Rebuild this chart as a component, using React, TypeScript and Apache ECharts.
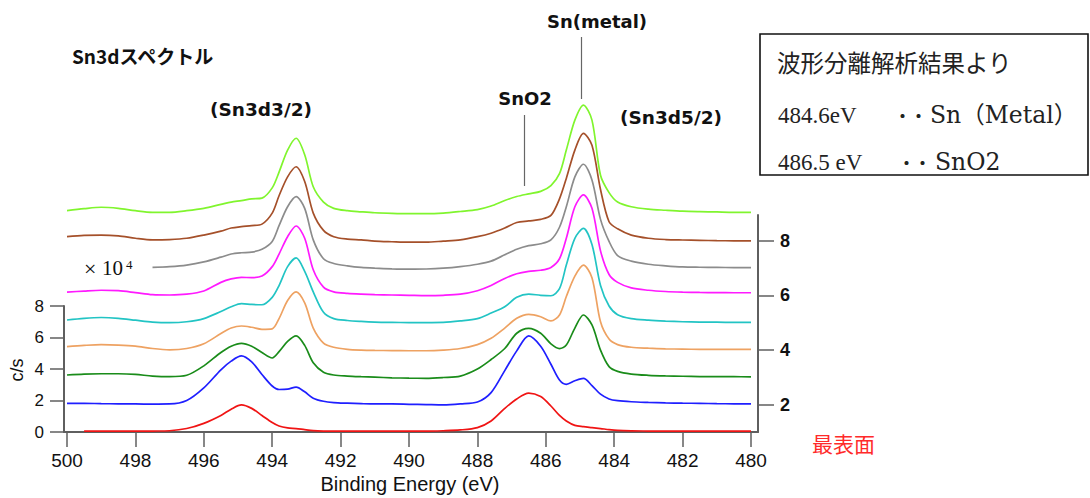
import React, { useEffect, useRef } from "react";
import * as echarts from "echarts";

// Binding energy sample positions (eV)
const X = [500, 499.5, 499, 498.5, 498, 497.5, 497, 496.5, 496, 495.5, 495.2, 494.9, 494.6, 494.3, 494.0, 493.8, 493.55, 493.3, 493.05, 492.8, 492.5, 492.2, 491.8, 491.4, 491, 490.5, 490, 489.5, 489, 488.5, 488, 487.6, 487.2, 486.85, 486.5, 486.15, 485.85, 485.6, 485.4, 485.15, 484.9, 484.65, 484.4, 484.15, 483.9, 483.5, 483, 482.5, 482, 481.5, 481, 480.5, 480];

const X_TICKS = [500, 498, 496, 494, 492, 490, 488, 486, 484, 482, 480];
const LEFT_TICKS = [0, 2, 4, 6, 8];
const RIGHT_TICKS = [2, 4, 6, 8];

// traces (c/s ×10^4, offset stacked), bottom (surface) to top
const RED = [null, 0.05, 0.05, 0.05, 0.05, 0.06, 0.08, 0.22, 0.55, 1.05, 1.45, 1.72, 1.5, 1.05, 0.6, 0.38, 0.26, 0.22, 0.15, 0.09, 0.06, 0.05, 0.05, 0.05, 0.05, 0.05, 0.05, 0.06, 0.08, 0.13, 0.28, 0.7, 1.5, 2.1, 2.47, 2.25, 1.65, 1.05, 0.7, 0.42, 0.34, 0.28, 0.22, 0.15, 0.1, 0.07, 0.06, 0.05, 0.05, 0.05, 0.05, 0.05, 0.05];
const BLUE = [1.82, 1.82, 1.8, 1.79, 1.78, 1.77, 1.78, 2.0, 2.8, 3.95, 4.5, 4.83, 4.45, 3.65, 2.92, 2.7, 2.72, 2.85, 2.55, 2.15, 1.95, 1.87, 1.83, 1.8, 1.78, 1.78, 1.76, 1.74, 1.72, 1.78, 1.9, 2.5, 3.9, 5.15, 6.1, 5.45, 4.3, 3.3, 3.03, 3.25, 3.4, 2.95, 2.4, 2.1, 1.99, 1.92, 1.88, 1.85, 1.83, 1.82, 1.8, 1.79, 1.78];
const GREEN = [3.62, 3.68, 3.7, 3.7, 3.66, 3.55, 3.51, 3.6, 4.2, 5.05, 5.45, 5.63, 5.45, 5.05, 4.7, 5.1, 5.75, 6.1, 5.5, 4.4, 3.8, 3.62, 3.55, 3.51, 3.48, 3.44, 3.42, 3.41, 3.46, 3.55, 4.0, 4.6, 5.3, 6.27, 6.58, 6.27, 5.6, 5.3, 5.52, 6.6, 7.43, 6.8, 5.2, 4.15, 3.85, 3.68, 3.6, 3.56, 3.54, 3.52, 3.51, 3.51, 3.5];
const ORANGE = [5.42, 5.5, 5.55, 5.52, 5.45, 5.3, 5.22, 5.3, 5.6, 6.25, 6.6, 6.73, 6.65, 6.52, 6.55, 7.2, 8.35, 8.9, 8.2, 6.6, 5.65, 5.38, 5.25, 5.2, 5.18, 5.17, 5.16, 5.16, 5.2, 5.3, 5.55, 5.95, 6.6, 7.22, 7.47, 7.32, 7.05, 7.43, 8.6, 9.9, 10.6, 9.8, 7.0, 5.9, 5.55, 5.38, 5.32, 5.28, 5.26, 5.25, 5.25, 5.25, 5.24];
const CYAN = [7.11, 7.22, 7.27, 7.22, 7.1, 6.98, 6.94, 7.0, 7.2, 7.65, 7.95, 8.15, 8.1, 8.08, 8.55, 9.3, 10.5, 11.05, 10.2, 8.9, 7.6, 7.2, 7.08, 7.02, 6.98, 6.96, 6.95, 6.95, 6.96, 7.05, 7.2, 7.55, 7.95, 8.55, 8.76, 8.68, 8.65, 9.1, 10.6, 12.3, 12.93, 11.9, 9.3, 8.0, 7.45, 7.2, 7.1, 7.04, 7.0, 6.98, 6.97, 6.96, 6.96];
const MAGENTA = [8.88, 8.95, 9.0, 8.97, 8.85, 8.72, 8.7, 8.75, 8.95, 9.5, 9.72, 9.82, 9.8, 9.9, 10.5, 11.3, 12.4, 13.08, 12.3, 10.3, 9.2, 8.9, 8.8, 8.75, 8.72, 8.7, 8.68, 8.66, 8.68, 8.75, 8.97, 9.3, 9.75, 10.05, 10.2, 10.27, 10.45, 11.0, 12.3, 14.3, 15.05, 14.2, 11.5, 10.0, 9.5, 9.15, 9.0, 8.92, 8.88, 8.86, 8.85, 8.84, 8.84];
const GRAY = [null, null, null, null, null, 10.45, 10.5, 10.6, 10.8, 11.1, 11.3, 11.38, 11.42, 11.6, 12.1, 13.1, 14.3, 14.94, 14.2, 12.2, 11.0, 10.7, 10.55, 10.45, 10.4, 10.36, 10.34, 10.35, 10.4, 10.5, 10.65, 10.85, 11.25, 11.6, 11.83, 11.95, 12.2, 13.0, 14.3, 16.2, 17.0, 16.0, 13.5, 12.1, 11.2, 10.85, 10.65, 10.55, 10.48, 10.46, 10.45, 10.44, 10.44];
const BROWN = [12.4, 12.48, 12.5, 12.45, 12.3, 12.2, 12.22, 12.3, 12.5, 12.75, 12.95, 13.04, 13.1, 13.2, 13.9, 15.0, 16.2, 16.84, 15.9, 13.9, 12.8, 12.4, 12.25, 12.2, 12.12, 12.08, 12.05, 12.05, 12.12, 12.2, 12.4, 12.62, 12.95, 13.3, 13.4, 13.5, 13.75, 14.8, 16.1, 17.9, 18.96, 18.2, 15.4, 13.35, 12.9, 12.5, 12.3, 12.22, 12.19, 12.17, 12.15, 12.14, 12.14];
const LIME = [14.05, 14.18, 14.27, 14.2, 14.05, 13.95, 13.95, 14.05, 14.2, 14.45, 14.6, 14.69, 14.8, 14.85, 15.5, 16.5, 17.9, 18.65, 17.6, 15.57, 14.6, 14.2, 14.05, 13.98, 13.92, 13.88, 13.86, 13.86, 13.9, 14.0, 14.12, 14.35, 14.7, 14.95, 15.12, 15.28, 15.65, 16.4, 17.9, 19.8, 20.76, 19.8, 16.3, 15.2, 14.6, 14.3, 14.15, 14.08, 14.02, 13.99, 13.97, 13.95, 13.95];

const TRACES = [RED, BLUE, GREEN, ORANGE, CYAN, MAGENTA, GRAY, BROWN, LIME];
const TRACE_COLORS = ["#f01414", "#1f1fff", "#1a8c1a", "#eea262", "#22c4c4", "#ff1aff", "#8c8c8c", "#a5502a", "#80f52e"];

const AXIS_COLOR = "#5f5f5f";
const SANS = "'Liberation Sans', Arial, sans-serif";
const SERIF = "'Liberation Serif', 'Times New Roman', serif";
const WSERIF = "'DejaVu Serif', 'Noto Sans CJK JP', serif";
const CJK = "'Noto Sans CJK JP', sans-serif";
const BOLDSANS = "'DejaVu Sans', Verdana, sans-serif";

function txt(text: string, x: number, y: number, font: string, opts: any = {}) {
  const align = opts.align || "left";
  const v = opts.v || "middle";
  return {
    type: "text",
    x: opts.gx || 0,
    y: opts.gy || 0,
    rotation: opts.rotation || 0,
    scaleX: opts.scaleX || 1,
    z: 10,
    style: {
      text,
      x,
      y,
      font,
      fill: opts.fill || "#111",
      align,
      verticalAlign: v,
      textAlign: align,
      textVerticalAlign: v,
    },
  };
}

export default function App() {
  const ref = useRef<HTMLDivElement>(null);
  useEffect(() => {
    if (!ref.current) return;
    const chart = echarts.init(ref.current, null, { renderer: "svg" });

    const series = TRACES.map((vals, k) => ({
      type: "line",
      xAxisIndex: 0,
      yAxisIndex: 0,
      data: X.map((x, i) => [x, vals[i]]).filter((p) => p[1] !== null),
      showSymbol: false,
      smooth: 0.3,
      lineStyle: { color: TRACE_COLORS[k], width: 1.7 },
      itemStyle: { color: TRACE_COLORS[k] },
      z: 3 + k,
    }));

    const gridRight = 1090 - 758;
    const axisLine = { show: true, onZero: false, lineStyle: { color: AXIS_COLOR, width: 2 } };
    const option: any = {
      animation: false,
      backgroundColor: "#ffffff",
      grid: [
        { left: 64, right: gridRight, top: 432 - 27 * 15.75, bottom: 66 },
        { left: 64, right: gridRight, top: 306, bottom: 66 },
        { left: 64, right: gridRight, top: 215, bottom: 66 },
      ],
      xAxis: [
        {
          type: "value",
          gridIndex: 0,
          position: "bottom",
          min: 479.795,
          max: 500.088,
          inverse: true,
          axisLine,
          axisTick: { show: true, customValues: X_TICKS, length: 15, lineStyle: { color: AXIS_COLOR, width: 1.5 } },
          axisLabel: { show: true, customValues: X_TICKS, fontSize: 19, color: "#111", margin: 19, fontFamily: SANS },
          splitLine: { show: false },
        },
        { type: "value", gridIndex: 1, min: 0, max: 1, show: false },
        { type: "value", gridIndex: 2, min: 0, max: 1, show: false },
      ],
      yAxis: [
        { type: "value", gridIndex: 0, min: 0, max: 27, show: false },
        {
          type: "value",
          gridIndex: 1,
          position: "left",
          min: 0,
          max: 8,
          axisLine,
          axisTick: { show: true, customValues: LEFT_TICKS, length: 14, lineStyle: { color: AXIS_COLOR, width: 1.5 } },
          axisLabel: { show: true, customValues: LEFT_TICKS, fontSize: 17, color: "#111", margin: 20, fontFamily: SANS },
          splitLine: { show: false },
        },
        {
          type: "value",
          gridIndex: 2,
          position: "right",
          min: 1,
          max: 1 + 217 / 27.33,
          axisLine,
          axisTick: { show: true, customValues: RIGHT_TICKS, length: 16, lineStyle: { color: AXIS_COLOR, width: 1.5 } },
          axisLabel: { show: true, customValues: RIGHT_TICKS, fontSize: 18, fontWeight: "bold", color: "#111", margin: 22, fontFamily: SANS },
          splitLine: { show: false },
        },
      ],
      series,
      graphic: [
        txt("Sn3dスペクトル", 72, 55, `bold 19px ${CJK}`),
        txt("(Sn3d3/2)", 261, 109, `bold 18.5px ${BOLDSANS}`, { align: "center" }),
        txt("SnO2", 525, 98, `bold 18px ${BOLDSANS}`, { align: "center" }),
        txt("Sn(metal)", 597, 21, `bold 18px ${BOLDSANS}`, { align: "center" }),
        txt("(Sn3d5/2)", 671, 117, `bold 18.5px ${BOLDSANS}`, { align: "center" }),
        { type: "line", z: 10, shape: { x1: 581.5, y1: 37, x2: 581.5, y2: 99 }, style: { stroke: "#666", lineWidth: 1.2 } },
        { type: "line", z: 10, shape: { x1: 524.5, y1: 115, x2: 524.5, y2: 186 }, style: { stroke: "#666", lineWidth: 1.2 } },
        txt("×", 84, 268, `22px ${SERIF}`),
        txt("10", 102, 268, `21px ${SERIF}`),
        txt("4", 126, 264, `13px ${SERIF}`),
        txt("最表面", 812, 443, `21px ${CJK}`, { fill: "#ff2a2a" }),
        txt("Binding Energy (eV)", 410, 484, `20px ${SANS}`, { align: "center" }),
        txt("c/s", 0, 0, `18px ${SANS}`, { align: "center", gx: 17, gy: 370, rotation: Math.PI / 2 }),
        { type: "rect", z: 9, shape: { x: 760, y: 34, width: 328, height: 141 }, style: { fill: "#fff", stroke: "#111", lineWidth: 1.6 } },
        txt("波形分離解析結果より", 777, 62, `23.5px ${CJK}`, { fill: "#222" }),
        txt("484.6eV", 778, 115, `23px ${SERIF}`, { fill: "#222" }),
        txt("・・", 910.5, 115, `bold 16px ${CJK}`, { fill: "#222", align: "center" }),
        txt("Sn（Metal）", 930, 115, `23.5px ${WSERIF}`, { fill: "#222" }),
        txt("486.5 eV", 778, 162, `23px ${SERIF}`, { fill: "#222" }),
        txt("・・", 914.5, 162, `bold 16px ${CJK}`, { fill: "#222", align: "center" }),
        txt("SnO2", 935, 162, `23.5px ${WSERIF}`, { fill: "#222" }),
      ],
    };
    chart.setOption(option);
    return () => chart.dispose();
  }, []);
  return (
    <div
      ref={ref}
      style={{ position: "fixed", left: 0, top: 0, width: 1090, height: 498, background: "#fff" }}
    />
  );
}
